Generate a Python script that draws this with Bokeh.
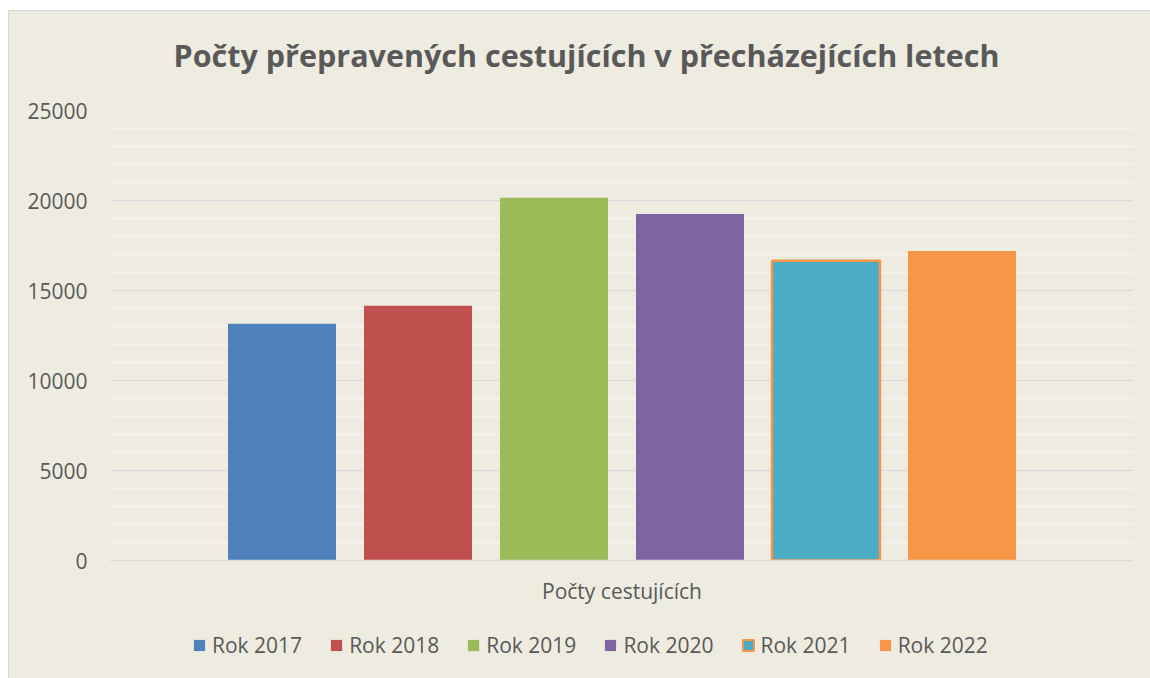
from bokeh.plotting import figure
from bokeh.layouts import column
from bokeh.models import (FactorRange, Range1d, SingleIntervalTicker, Legend, LegendItem,
                          ColumnDataSource, Label)
from bokeh.transform import dodge
from bokeh.embed import file_html
from bokeh.resources import INLINE

# ---- data ----
category = ["Počty cestujících"]
series_names = ["Rok 2017", "Rok 2018", "Rok 2019", "Rok 2020", "Rok 2021", "Rok 2022"]
series_values = [13150, 14150, 20150, 19250, 16650, 17200]
series_colors = ["#4F81BD", "#C0504D", "#9BBB59", "#8064A2", "#4BACC6", "#F79646"]
series_outline = [None, None, None, None, "#F79646", None]
title_text = "Počty přepravených cestujících v přecházejících letech"

BG = "#EEEBE0"
TXT = "#595959"
FONT = "Open Sans"
W = 1141
xr = FactorRange(factors=category, range_padding=0)


def strip(height):
    f = figure(width=W, height=height, x_range=xr, y_range=Range1d(0, 1),
               x_axis_type=None, y_axis_type=None,
               output_backend="svg", toolbar_location=None,
               background_fill_color=BG, border_fill_color=BG,
               min_border_top=0, min_border_bottom=0)
    f.outline_line_color = None
    f.xgrid.visible = False
    f.ygrid.visible = False
    return f


# ---- title strip ----
tf = strip(84)
tf.add_layout(Label(x=476, y=41, x_units="screen", y_units="screen", text=title_text,
                    text_font=FONT, text_font_size="30.5px", text_font_style="bold",
                    text_color=TXT, text_align="center", text_baseline="middle"))

# ---- main plot ----
p = figure(
    width=W, height=517,
    x_range=xr, y_range=Range1d(0, 25000),
    output_backend="svg", toolbar_location=None,
    background_fill_color=BG, border_fill_color=BG,
    min_border_left=101, min_border_right=17, min_border_top=15, min_border_bottom=52,
)
p.outline_line_color = None

frame_w = 1023.0
bar_w = 108.0 / frame_w
step = 136.0 / frame_w

for i, (name, val, col, oc) in enumerate(zip(series_names, series_values, series_colors, series_outline)):
    src = ColumnDataSource(dict(x=category, top=[val]))
    p.vbar(x=dodge("x", (i - 2.5) * step, range=xr), top="top", width=bar_w,
           source=src, fill_color=col,
           line_color=oc if oc else None, line_width=2.5 if oc else 0)

yax = p.yaxis[0]
yax.ticker = SingleIntervalTicker(interval=5000, num_minor_ticks=5)
yax.axis_line_color = None
yax.major_tick_line_color = None
yax.minor_tick_line_color = None
yax.major_tick_out = 0
yax.major_label_standoff = 19
yax.major_label_text_font = FONT
yax.major_label_text_font_size = "21px"
yax.major_label_text_color = TXT

xax = p.xaxis[0]
xax.axis_line_color = "#D9D9D9"
xax.axis_line_width = 1.5
xax.major_tick_line_color = None
xax.minor_tick_line_color = None
xax.major_tick_out = 0
xax.major_label_standoff = 16
xax.major_label_text_font = FONT
xax.major_label_text_font_size = "21px"
xax.major_label_text_color = TXT

p.xgrid.grid_line_color = None
p.ygrid.grid_line_color = "#D9D9D9"
p.ygrid.grid_line_width = 1.5
p.ygrid.minor_grid_line_color = "#F4F3EF"
p.ygrid.minor_grid_line_width = 2

# ---- legend strip (proxy bars, hidden; only their legend swatches show) ----
lf = strip(66)
items = []
for i, (name, val, col, oc) in enumerate(zip(series_names, series_values, series_colors, series_outline)):
    src = ColumnDataSource(dict(x=category, top=[val]))
    r = lf.vbar(x=dodge("x", (i - 2.5) * step, range=xr), top="top", width=bar_w,
                source=src, fill_color=col,
                line_color=oc if oc else None, line_width=2 if oc else 0)
    r.visible = False
    items.append(LegendItem(label=name, renderers=[r]))

legend = Legend(items=items, orientation="horizontal", location=(82, 19),
                glyph_width=14, glyph_height=14, label_standoff=6, spacing=27,
                padding=0, margin=0, border_line_color=None, background_fill_alpha=0,
                label_text_font=FONT, label_text_font_size="21px", label_text_color=TXT)
lf.add_layout(legend, "center")

layout = column(tf, p, lf, spacing=0)
layout.margin = (11, 0, 0, 9)
layout.styles = {"outline": "1px solid #D9D9D9", "background-color": BG}

open("out.html", "w").write(file_html(layout, INLINE))
